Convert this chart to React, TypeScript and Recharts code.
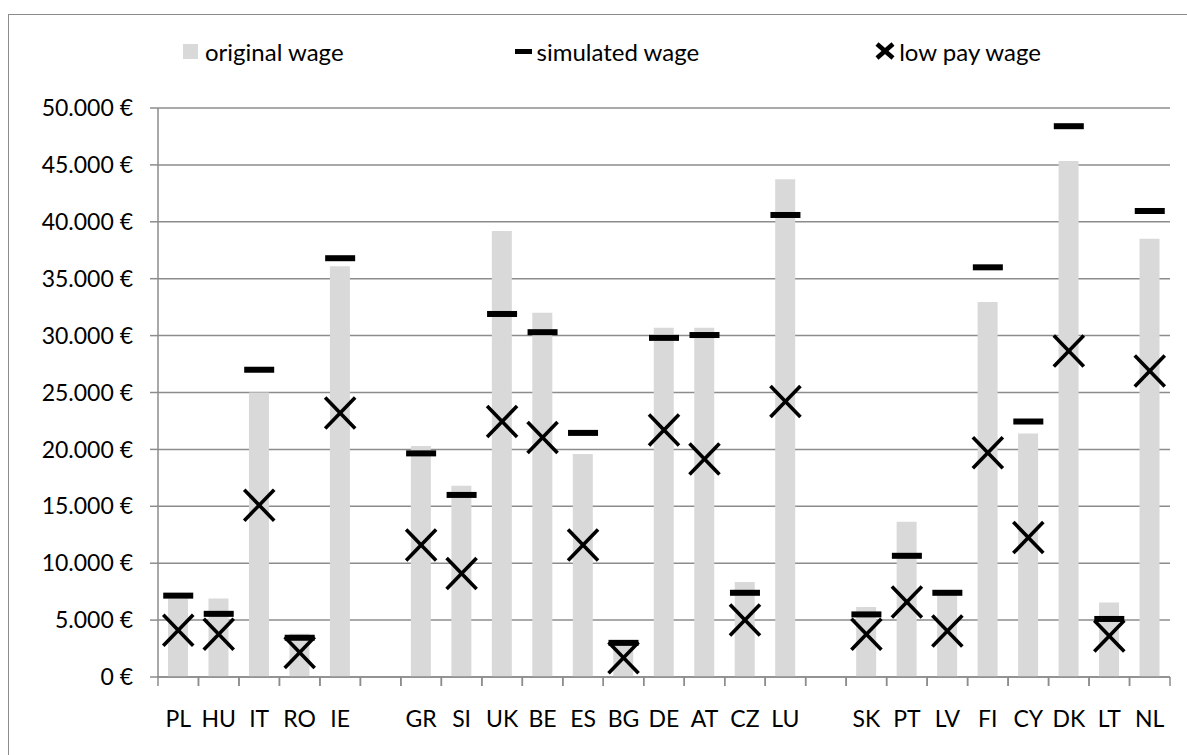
import { ComposedChart, Bar, Line, XAxis, YAxis, CartesianGrid } from 'recharts'

// Länder in drei Gruppen, leere Kategorien als Abstand zwischen den Gruppen
const countries = [
  'PL', 'HU', 'IT', 'RO', 'IE', ' ',
  'GR', 'SI', 'UK', 'BE', 'ES', 'BG', 'DE', 'AT', 'CZ', 'LU', '  ',
  'SK', 'PT', 'LV', 'FI', 'CY', 'DK', 'LT', 'NL',
]

const originalWage = [
  6900, 6900, 25000, 3800, 36100, null,
  20300, 16800, 39200, 32000, 19600, 2900, 30700, 30700, 8350, 43750, null,
  6150, 13650, 7200, 32950, 21400, 45350, 6550, 38500,
]

const simulatedWage = [
  7150, 5550, 27000, 3450, 36800, null,
  19650, 16000, 31900, 30300, 21450, 3000, 29800, 30050, 7400, 40600, null,
  5500, 10650, 7400, 36000, 22450, 48400, 5100, 40950,
]

const lowPayWage = [
  4100, 3750, 15100, 2150, 23200, null,
  11600, 9100, 22450, 21050, 11600, 1700, 21700, 19150, 5000, 24200, null,
  3750, 6600, 4050, 19700, 12250, 28650, 3600, 26900,
]

const yTicks = [0, 5000, 10000, 15000, 20000, 25000, 30000, 35000, 40000, 45000, 50000]

const rows = countries.map((country, i) => ({
  country,
  original: originalWage[i],
  simulated: simulatedWage[i],
  lowPay: lowPayWage[i],
}))

const FONT = 'Lato, "Open Sans", sans-serif'
const AXIS_COLOR = '#8c8c8c'
const BAR_COLOR = '#d9d9d9'

// 50000 -> "50.000 €"
function formatEuro(v: number): string {
  return `${String(v).replace(/\B(?=(\d{3})+(?!\d))/g, '.')} €`
}

// Teilstriche an den Kategoriegrenzen, Beschriftung in der Mitte
const CategoryTick = (props: any) => {
  const { x, y, payload } = props
  const half = payload?.offset || 20.25
  return (
    <g>
      <line x1={x - half} x2={x - half} y1={y} y2={y + 9} stroke={AXIS_COLOR} strokeWidth={1.5} />
      <line x1={x + half} x2={x + half} y1={y} y2={y + 9} stroke={AXIS_COLOR} strokeWidth={1.5} />
      <text
        x={x}
        y={y + 41}
        textAnchor="middle"
        dominantBaseline="central"
        fontFamily={FONT}
        fontSize={23}
        fill="#000"
      >
        {payload.value}
      </text>
    </g>
  )
}

const DashDot = (props: any) => {
  const { cx, cy, value, index } = props
  if (value == null || cy == null || Number.isNaN(cy)) return <g key={`d${index}`} />
  return <rect key={`d${index}`} x={cx - 15} y={cy - 3} width={30} height={6} fill="#000" />
}

const CrossDot = (props: any) => {
  const { cx, cy, value, index } = props
  if (value == null || cy == null || Number.isNaN(cy)) return <g key={`c${index}`} />
  return (
    <g key={`c${index}`} stroke="#000" strokeWidth={3.6}>
      <line x1={cx - 15} y1={cy - 15.5} x2={cx + 15} y2={cy + 15.5} />
      <line x1={cx - 15} y1={cy + 15.5} x2={cx + 15} y2={cy - 15.5} />
    </g>
  )
}

function LegendRow() {
  const item = { display: 'flex', alignItems: 'center' } as const
  return (
    <div
      style={{
        position: 'absolute',
        left: 183,
        top: 36,
        height: 30,
        display: 'flex',
        alignItems: 'center',
        fontFamily: FONT,
        fontSize: 24,
        color: '#000',
        whiteSpace: 'nowrap',
      }}
    >
      <div style={item}>
        <span style={{ width: 15, height: 15, background: BAR_COLOR, marginRight: 7 }} />
        original wage
      </div>
      <div style={{ ...item, marginLeft: 171 }}>
        <span style={{ width: 17, height: 5, background: '#000', marginRight: 5 }} />
        simulated wage
      </div>
      <div style={{ ...item, marginLeft: 176 }}>
        <svg width={20} height={18} style={{ marginRight: 4 }}>
          <g stroke="#000" strokeWidth={4.5}>
            <line x1={2} y1={2} x2={18} y2={16} />
            <line x1={2} y1={16} x2={18} y2={2} />
          </g>
        </svg>
        low pay wage
      </div>
    </div>
  )
}

export default function App() {
  return (
    <div
      style={{
        position: 'absolute',
        left: 0,
        top: 0,
        width: 1187,
        height: 755,
        overflow: 'hidden',
        background: '#fff',
      }}
    >
      <div
        style={{
          position: 'absolute',
          left: 8,
          top: 14,
          width: 1300,
          height: 900,
          border: `1.5px solid ${AXIS_COLOR}`,
        }}
      />
      <LegendRow />
      <div style={{ position: 'absolute', left: 0, top: 0 }}>
        <ComposedChart
          width={1187}
          height={755}
          data={rows}
          margin={{ top: 108, right: 17, bottom: 18, left: 0 }}
        >
          <CartesianGrid vertical={false} stroke={AXIS_COLOR} strokeWidth={1.5} />
          <XAxis
            dataKey="country"
            interval={0}
            height={60}
            tickLine={false}
            tickSize={0}
            tickMargin={0}
            axisLine={{ stroke: AXIS_COLOR, strokeWidth: 1.5 }}
            tick={<CategoryTick />}
          />
          <YAxis
            width={158}
            domain={[0, 50000]}
            ticks={yTicks}
            interval={0}
            tickFormatter={formatEuro}
            tickSize={8}
            tickMargin={17}
            tickLine={{ stroke: AXIS_COLOR, strokeWidth: 1.5 }}
            axisLine={{ stroke: AXIS_COLOR, strokeWidth: 1.5 }}
            tick={{ fill: '#000', fontSize: 23, fontFamily: FONT }}
          />
          <Bar dataKey="original" fill={BAR_COLOR} barSize={20} isAnimationActive={false} />
          <Line
            dataKey="simulated"
            stroke="none"
            dot={DashDot}
            activeDot={false}
            isAnimationActive={false}
          />
          <Line
            dataKey="lowPay"
            stroke="none"
            dot={CrossDot}
            activeDot={false}
            isAnimationActive={false}
          />
        </ComposedChart>
      </div>
    </div>
  )
}
